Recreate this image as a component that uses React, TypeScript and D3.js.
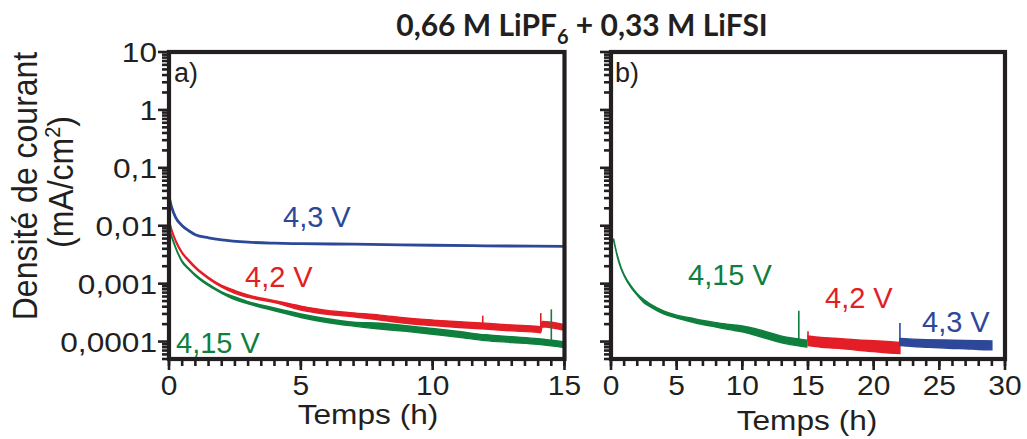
import React from "react";
import * as d3 from "d3";

// ---------- data ----------
const title = "0,66 M LiPF";
const titleSub = "6";
const titleTail = " + 0,33 M LiFSI";
const yTickValues = [0.0001, 0.001, 0.01, 0.1, 1, 10];
const yTickLabels = ["0,0001", "0,001", "0,01", "0,1", "1", "10"];
const xTicksA = [0, 5, 10, 15];
const xTicksB = [0, 5, 10, 15, 20, 25, 30];

// Panel a) 4,3 V (blue), thin line
const a43T = [0, 0.1, 0.25, 0.5, 0.75, 1, 1.5, 2, 3, 4, 5, 7, 10, 12, 15];
const a43V = [0.032, 0.021, 0.014, 0.01, 0.0082, 0.007, 0.0062, 0.0057, 0.0052, 0.005, 0.0049, 0.0048, 0.0046, 0.0045, 0.0044];

// Panel a) 4,2 V (red), noisy band
const a42T = [0, 0.1, 0.25, 0.5, 0.75, 1, 1.5, 2, 2.5, 3, 4, 5, 6, 7, 8, 9, 10, 11, 12, 13, 14, 14.1, 14.15, 15];
const a42Hi = [0.0127, 0.0088, 0.0057, 0.0035, 0.00258, 0.00196, 0.00129, 0.00093, 0.00076, 0.00064, 0.00051, 0.00041, 0.000345, 0.000313, 0.000286, 0.000255, 0.000235, 0.00022, 0.000208, 0.000193, 0.000182, 0.000178, 0.000222, 0.000196];
const a42Lo = [0.0119, 0.0082, 0.0053, 0.0033, 0.00242, 0.00184, 0.00121, 0.00087, 0.00068, 0.00058, 0.00047, 0.00035, 0.000296, 0.000268, 0.000236, 0.000207, 0.000189, 0.000175, 0.000165, 0.000153, 0.000144, 0.000142, 0.00018, 0.000156];

// Panel a) 4,15 V (green), noisy band
const a415T = [0, 0.1, 0.25, 0.5, 0.75, 1, 1.5, 2, 2.5, 3, 4, 5, 6, 7, 8, 9, 10, 11, 12, 13, 14, 15];
const a415Hi = [0.0099, 0.0067, 0.0043, 0.00247, 0.00185, 0.00144, 0.00098, 0.00072, 0.00059, 0.00049, 0.00038, 0.0003, 0.000248, 0.000216, 0.000207, 0.000188, 0.000168, 0.000149, 0.000131, 0.000121, 0.000112, 0.0000986];
const a415Lo = [0.0093, 0.0063, 0.0041, 0.00233, 0.00175, 0.00136, 0.00092, 0.00068, 0.00053, 0.00045, 0.00034, 0.00026, 0.000213, 0.000185, 0.000165, 0.00015, 0.000134, 0.000119, 0.000104, 0.0000964, 0.0000893, 0.0000786];

// Panel b) sequential holds
const b415T = [0.2, 0.35, 0.5, 0.75, 1, 1.5, 2, 2.5, 3, 4, 5, 6, 7, 8, 9, 10, 11, 12, 13, 14, 14.9];
const b415Hi = [0.006, 0.0041, 0.003, 0.00196, 0.00144, 0.00093, 0.00067, 0.00053, 0.000445, 0.00034, 0.000286, 0.000258, 0.000231, 0.000212, 0.000198, 0.000186, 0.000167, 0.000144, 0.000124, 0.000113, 0.000106];
const b415Lo = [0.0056, 0.0039, 0.0028, 0.00184, 0.00136, 0.00087, 0.00063, 0.00047, 0.000396, 0.0003, 0.000255, 0.000222, 0.000196, 0.000178, 0.000161, 0.000147, 0.000128, 0.00011, 0.000095, 0.000086, 0.00008];

const b42T = [15, 16, 17, 18, 19, 20, 21, 22];
const b42Hi = [0.000125, 0.000118, 0.000114, 0.00011, 0.000106, 0.000103, 0.0001, 0.000097];
const b42Lo = [0.000085, 0.00008, 0.000077, 0.000074, 0.00007, 0.000067, 0.000064, 0.000062];

const b43T = [22, 23, 24, 25, 26, 27, 28, 29];
const b43Hi = [0.000113, 0.00011, 0.000108, 0.000107, 0.000106, 0.000105, 0.000104, 0.000103];
const b43Lo = [0.000085, 0.000082, 0.00008, 0.000078, 0.000076, 0.000075, 0.000073, 0.000072];

// Spikes: time, from, to
const spikesA = [
  { t: 14.5, lo: 0.0001, hi: 0.00036, s: "g" },
  { t: 14.1, lo: 0.00016, hi: 0.00031, s: "r" },
  { t: 11.9, lo: 0.00019, hi: 0.00028, s: "r" },
];
const spikesB = [
  { t: 14.3, lo: 0.0001, hi: 0.00034, s: "g" },
  { t: 15.0, lo: 0.0001, hi: 0.00015, s: "r" },
  { t: 22.0, lo: 0.00009, hi: 0.00021, s: "b" },
];

// ---------- style ----------
const BLUE = "#2d4899";
const RED = "#e31e26";
const GREEN = "#0f7f3d";
const INK = "#231f20";
const COLORS: Record<string, string> = { b: BLUE, r: RED, g: GREEN };
const SANS = "'Liberation Sans', Arial, sans-serif";

const W = 1027;
const H = 439;
const TOP = 52;
const BOT = 359;

const y = d3.scaleLog().domain([5e-5, 10]).range([BOT, TOP]);
const xA = d3.scaleLinear().domain([0, 15]).range([169, 564.5]);
const xB = d3.scaleLinear().domain([0, 30]).range([611, 1005]);

function SText({ x, y: ty, size, sx = 1, anchor = "start", fill = INK, children }: any) {
  return (
    <text
      transform={`translate(${x},${ty}) scale(${sx},1)`}
      textAnchor={anchor}
      fontFamily={SANS}
      fontSize={size}
      fill={fill}
    >
      {children}
    </text>
  );
}

function Band({ x, T, hi, lo, color }: any) {
  const data = T.map((t: number, i: number) => ({ t, hi: hi[i], lo: lo[i] }));
  const area = d3
    .area<any>()
    .x((d) => x(d.t))
    .y0((d) => y(d.lo))
    .y1((d) => y(d.hi))
    .curve(d3.curveMonotoneX);
  return <path d={area(data) || ""} fill={color} stroke={color} strokeWidth={1.4} />;
}

function Line({ x, T, V, color }: any) {
  const line = d3
    .line<number>()
    .x((_, i) => x(T[i]))
    .y((v) => y(v))
    .curve(d3.curveMonotoneX);
  return <path d={line(V) || ""} fill="none" stroke={color} strokeWidth={2.8} />;
}

function Frame({ x, minorStep, majors, showYLabels }: any) {
  const [d0, d1] = x.domain();
  const x0 = x(d0);
  const x1 = x(d1);
  const minorX = d3.range(d0, d1 + 1e-9, minorStep);
  const yMinor: number[] = [];
  for (let e = -5; e <= 0; e++) {
    for (let k = 2; k <= 9; k++) {
      const v = k * Math.pow(10, e);
      if (v >= 5e-5 && v < 10) yMinor.push(v);
    }
  }
  return (
    <g>
      {yMinor.map((v, i) => (
        <line key={"ym" + i} x1={x0 - 7} x2={x0} y1={y(v)} y2={y(v)} stroke={INK} strokeWidth={2.6} />
      ))}
      {yTickValues.map((v, i) => (
        <line key={"yM" + i} x1={x0 - 11} x2={x0} y1={y(v)} y2={y(v)} stroke={INK} strokeWidth={2.6} />
      ))}
      {minorX.map((t, i) => (
        <line key={"xm" + i} x1={x(t)} x2={x(t)} y1={BOT} y2={BOT + 7} stroke={INK} strokeWidth={2.6} />
      ))}
      {majors.map((t: number, i: number) => (
        <line key={"xM" + i} x1={x(t)} x2={x(t)} y1={BOT} y2={BOT + 11} stroke={INK} strokeWidth={2.6} />
      ))}
      <rect x={x0} y={TOP} width={x1 - x0} height={BOT - TOP} fill="none" stroke={INK} strokeWidth={4.2} />
      {majors.map((t: number, i: number) => (
        <SText key={"xl" + i} x={x(t)} y={395} size={28} sx={1.07} anchor="middle">
          {String(t)}
        </SText>
      ))}
      {showYLabels &&
        yTickLabels.map((lab, i) => (
          <SText key={"yl" + i} x={157} y={y(yTickValues[i]) + 10} size={28} sx={1.13} anchor="end">
            {lab}
          </SText>
        ))}
    </g>
  );
}

export default function App() {
  const spikeLine = (x: any, s: any, i: number) => (
    <line key={i} x1={x(s.t)} x2={x(s.t)} y1={y(s.lo)} y2={y(s.hi)} stroke={COLORS[s.s]} strokeWidth={1.6} />
  );
  return (
    <svg width={W} height={H} style={{ position: "absolute", left: 0, top: 0, background: "#fff" }}>
      <rect x={0} y={0} width={W} height={H} fill="#fff" />
      {/* title */}
      <text x={582} y={36} textAnchor="middle" fontFamily="Lato, 'Open Sans', sans-serif" fontWeight={700} fontSize={30} fill={INK}>
        {title}
        <tspan fontSize={20} dy={8}>{titleSub}</tspan>
        <tspan dy={-8}>{titleTail}</tspan>
      </text>

      {/* y axis title */}
      <g transform="translate(37,186) scale(1.1,1) rotate(-90)">
        <text x={0} y={0} textAnchor="middle" fontFamily={SANS} fontSize={32} fill={INK}>
          Densité de courant
        </text>
      </g>
      <g transform="translate(73,182) scale(1.1,1) rotate(-90)">
        <text x={0} y={0} textAnchor="middle" fontFamily={SANS} fontSize={32} fill={INK}>
          (mA/cm<tspan fontSize={20} dy={-12}>2</tspan>
          <tspan dy={12}>)</tspan>
        </text>
      </g>

      {/* panel a data */}
      <Band x={xA} T={a415T} hi={a415Hi} lo={a415Lo} color={GREEN} />
      <Band x={xA} T={a42T} hi={a42Hi} lo={a42Lo} color={RED} />
      <Line x={xA} T={a43T} V={a43V} color={BLUE} />
      {spikesA.map((s, i) => spikeLine(xA, s, i))}

      {/* panel b data */}
      <Band x={xB} T={b415T} hi={b415Hi} lo={b415Lo} color={GREEN} />
      <Band x={xB} T={b42T} hi={b42Hi} lo={b42Lo} color={RED} />
      <Band x={xB} T={b43T} hi={b43Hi} lo={b43Lo} color={BLUE} />
      {spikesB.map((s, i) => spikeLine(xB, s, 10 + i))}

      <Frame x={xA} minorStep={0.5} majors={xTicksA} showYLabels={true} />
      <Frame x={xB} minorStep={1} majors={xTicksB} showYLabels={false} />

      {/* x axis titles */}
      <SText x={368} y={424} size={28} sx={1.13} anchor="middle">Temps (h)</SText>
      <SText x={807} y={430} size={28} sx={1.13} anchor="middle">Temps (h)</SText>

      {/* panel labels */}
      <SText x={174} y={82} size={27}>a)</SText>
      <SText x={615} y={82} size={27}>b)</SText>

      {/* series labels */}
      <SText x={283} y={227} size={29} fill={BLUE}>4,3 V</SText>
      <SText x={245} y={287} size={29} fill={RED}>4,2 V</SText>
      <SText x={176} y={353} size={29} fill={GREEN}>4,15 V</SText>
      <SText x={688} y={285} size={29} fill={GREEN}>4,15 V</SText>
      <SText x={825} y={308} size={29} fill={RED}>4,2 V</SText>
      <SText x={922} y={332} size={29} fill={BLUE}>4,3 V</SText>
    </svg>
  );
}
